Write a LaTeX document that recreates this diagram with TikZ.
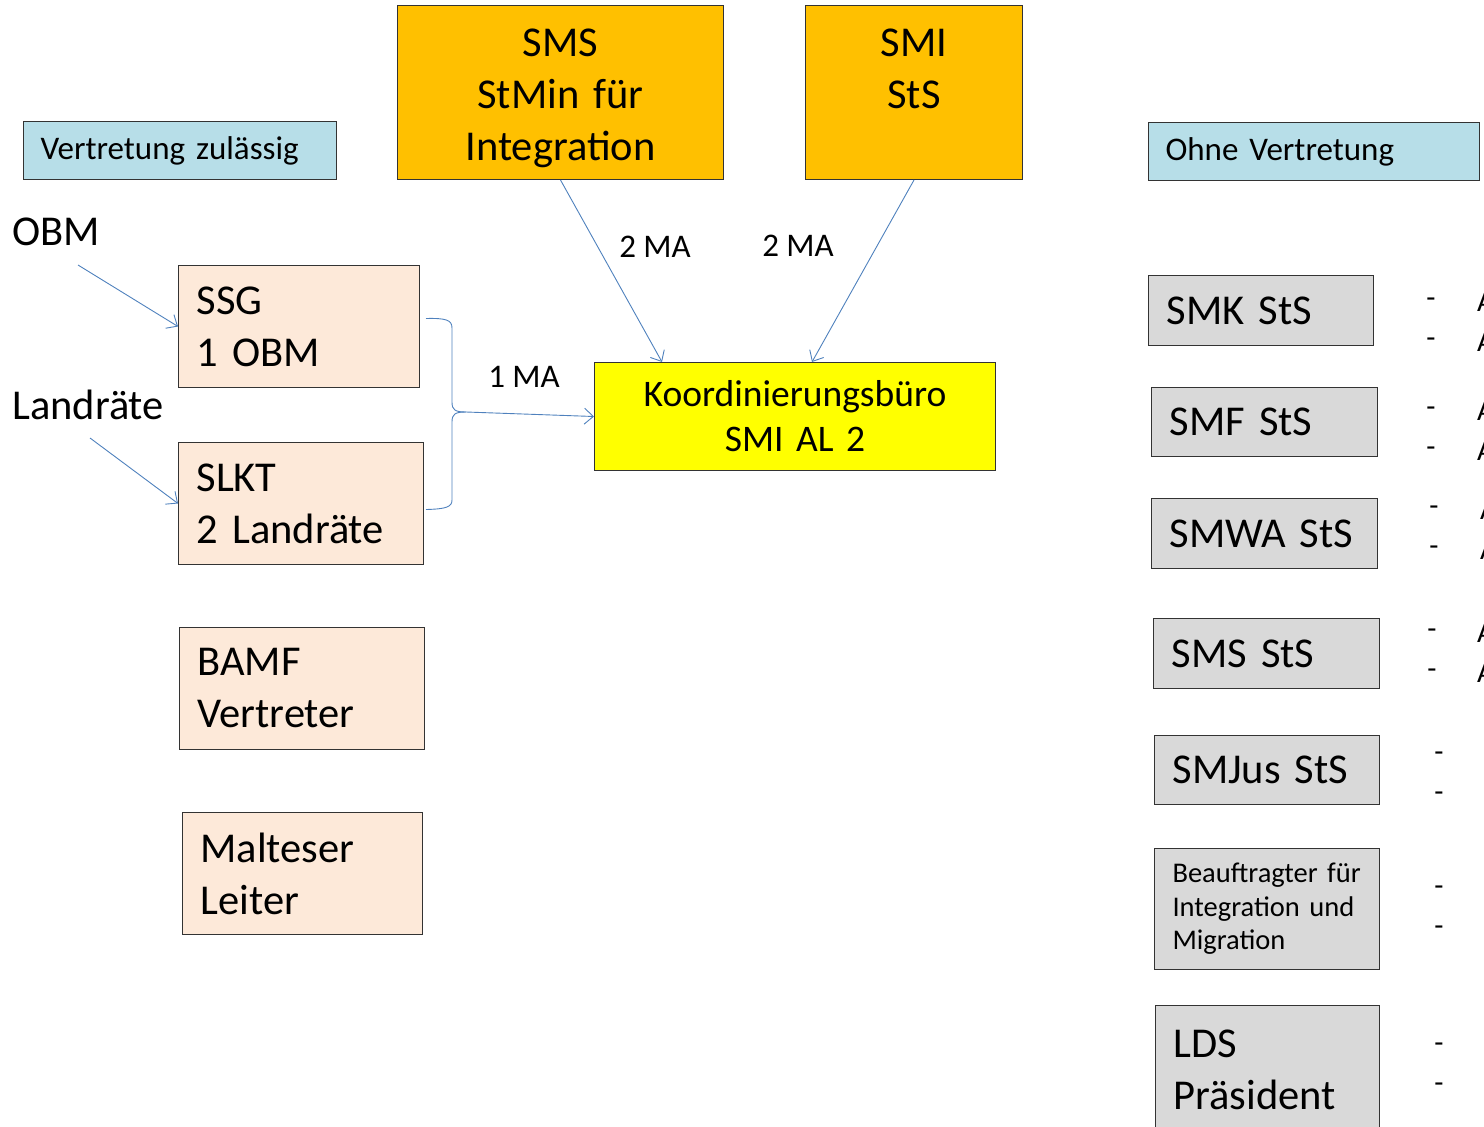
\documentclass[tikz,border=0pt]{standalone}
\usepackage{fontspec}
\setmainfont{Carlito}
\usetikzlibrary{arrows.meta,calc}
\definecolor{lblue}{HTML}{B7DEE8}
\definecolor{orng}{HTML}{FFC000}
\definecolor{yel}{HTML}{FFFF00}
\definecolor{peach}{HTML}{FDE9D9}
\definecolor{gry}{HTML}{D9D9D9}
\definecolor{lnblue}{HTML}{4F81BD}
\newcommand\szXL{\fontsize{42.5}{52}\selectfont}
\newcommand\szK{\fontsize{37.5}{45}\selectfont}
\newcommand\szM{\fontsize{33}{40}\selectfont}
\newcommand\szS{\fontsize{28.5}{33.5}\selectfont}
\newcommand\szD{\fontsize{30}{36}\selectfont}
\tikzset{
  boxbase/.style={draw=black!80, line width=1pt, anchor=north west, inner ysep=0pt},
  hdr/.style={boxbase, fill=lblue, inner xsep=17pt, align=left, font=\szM},
  topbox/.style={boxbase, fill=orng, align=center, font=\szXL},
  peachbox/.style={boxbase, fill=peach, inner xsep=18pt, align=left, font=\szXL},
  graybox/.style={boxbase, fill=gry, inner xsep=18pt, align=left, font=\szXL},
  conn/.style={draw=lnblue, line width=0.9pt},
  arr/.style={conn, -{Straight Barb[length=9pt,width=16pt,line width=0.9pt]}},
  lbl/.style={inner sep=0pt, font=\szM},
  dashtxt/.style={inner sep=0pt, font=\szD},
}
\begin{document}
\begin{tikzpicture}[x=1pt,y=-1pt]
\useasboundingbox (0,0) rectangle (1484,1127);
\clip (0,0) rectangle (1484,1127);
% header boxes
\node[hdr, text width=279pt, minimum height=58pt] (vz) at (23,121) {Vertretung zulässig};
\node[hdr, text width=297pt, minimum height=58pt] (ov) at (1148,122) {Ohne Vertretung};
% top boxes
\node[topbox, text width=326pt, minimum height=174pt, inner xsep=0pt] (sms) at (397,5) {\rule{0pt}{40pt}SMS\\StMin für\\Integration};
\node[topbox, text width=217pt, minimum height=174pt, inner xsep=0pt] (smi) at (805,5) {\rule{0pt}{48pt}SMI\\StS\\\strut};
% coordination office
\node[boxbase, fill=yel, text width=401pt, minimum height=108pt, inner xsep=0pt, align=center, font=\szK] (kb) at (594,362) {Koordinierungsbüro\\SMI AL 2};
% left peach boxes
\node[peachbox, text width=205pt, minimum height=122pt] (ssg) at (178,265) {SSG\\1 OBM};
\node[peachbox, text width=209pt, minimum height=122pt] (slkt) at (178,442) {SLKT\\2 Landräte};
\node[peachbox, text width=209pt, minimum height=122pt] (bamf) at (179,627) {BAMF\\Vertreter};
\node[peachbox, text width=204pt, minimum height=122pt] (malt) at (182,812) {Malteser\\Leiter};
% right gray boxes
\node[graybox, text width=189pt, minimum height=70pt] (smk) at (1148,275) {SMK StS};
\node[graybox, text width=190pt, minimum height=69pt] (smf) at (1151,387) {SMF StS};
\node[graybox, text width=190pt, minimum height=70pt] (smwa) at (1151,498) {SMWA StS};
\node[graybox, text width=190pt, minimum height=70pt] (smss) at (1153,618) {SMS StS};
\node[graybox, text width=189pt, minimum height=69pt] (smj) at (1154,735) {SMJus StS};
\node[graybox, text width=189pt, minimum height=121pt, font=\szS] (bfi) at (1154,848) {Beauftragter für\\Integration und\\Migration};
\node[graybox, text width=188pt, minimum height=128pt] (lds) at (1155,1005) {LDS\\Präsident};
% free labels
\node[anchor=west, inner sep=0pt, font=\szXL] (obm) at (12,232) {OBM};
\node[anchor=west, inner sep=0pt, font=\szXL] (lr) at (12,405) {Landräte};
\node[lbl] (ma1) at (655,247) {2 MA};
\node[lbl] (ma2) at (798,246) {2 MA};
\node[lbl] (ma3) at (524,377) {1 MA};
% arrows
\coordinate (obmA) at (78,265);
\coordinate (lrA) at (90,438);
\draw[arr] (obmA) -- (ssg.west);
\draw[arr] (lrA) -- (slkt.west);
\draw[arr] (sms.south) -- ($(kb.north west)+(68,0)$);
\draw[arr] (smi.south) -- ($(kb.north west)+(218,0)$);
% brace
\coordinate (br) at (466,412);
\draw[conn] ($(ssg.east)+(6,-8)$) .. controls (446,318) and (452,320) .. (452,328) -- (452,402) .. controls (452,410) and (455,412) .. (br);
\draw[conn] ($(slkt.east)+(2,6)$) .. controls (446,509) and (452,507) .. (452,500) -- (452,422) .. controls (452,414) and (455,412) .. (br);
\draw[arr] (br) -- (kb.west);
% dashes at the right
\foreach \nm/\x/\y in {d1/1431/303,d2/1431/343,d3/1431/412,d4/1431/452,d5/1434/511,d6/1434/551,d7/1432/634,d8/1432/674,d9/1439/757,d10/1439/797,d11/1439/891,d12/1439/931,d13/1439/1048,d14/1439/1088}
  \node[dashtxt] (\nm) at (\x,\y) {-};
% partially visible letters at the edge
\foreach \nm/\x/\y in {a1/1477/311,a2/1477/351,a3/1477/420,a4/1477/460,a5/1480/519,a6/1480/559,a7/1477/642,a8/1477/682}
  \node[anchor=base west, inner sep=0pt, font=\szD] (\nm) at (\x,\y) {A};
\end{tikzpicture}
\end{document}
